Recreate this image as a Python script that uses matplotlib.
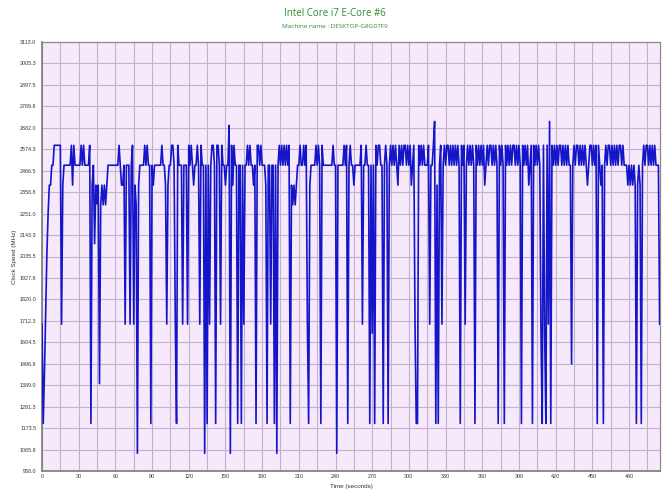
import numpy as np
import matplotlib
matplotlib.use("Agg")
import matplotlib.pyplot as plt
from matplotlib.ticker import MultipleLocator

title = "Intel Core i7 E-Core #6"
subtitle = "Machine name : DESKTOP-G8G07F9"
x_label = "Time (seconds)"
y_label = "Clock Speed (MHz)"

# clock speed, one sample per second (t = 0 .. 505)
clock_mhz = [
    1696, 1197, 1450, 1750, 2050, 2250, 2394, 2394, 2494, 2494,   # 0
    2594, 2594, 2594, 2594, 2594, 2594, 1696, 2394, 2494, 2494,   # 10
    2494, 2494, 2494, 2494, 2594, 2394, 2594, 2494, 2494, 2494,   # 20
    2494, 2494, 2594, 2494, 2594, 2494, 2494, 2494, 2494, 2594,   # 30
    1197, 2394, 2494, 2100, 2394, 2300, 2394, 1397, 2295, 2394,   # 40
    2295, 2394, 2295, 2394, 2494, 2494, 2494, 2494, 2494, 2494,   # 50
    2494, 2494, 2494, 2594, 2494, 2394, 2394, 2494, 1696, 2494,   # 60
    2494, 2494, 1696, 2494, 2594, 1696, 2394, 2294, 1047, 2394,   # 70
    2494, 2494, 2494, 2494, 2594, 2494, 2594, 2494, 2494, 1197,   # 80
    2494, 2394, 2494, 2494, 2494, 2494, 2494, 2494, 2594, 2494,   # 90
    2494, 2394, 1696, 2394, 2494, 2494, 2594, 2594, 2494, 1696,   # 100
    1197, 2594, 2494, 2494, 2494, 1696, 2494, 2494, 2494, 1696,   # 110
    2594, 2494, 2594, 2494, 2394, 2494, 2494, 2594, 2494, 1696,   # 120
    2594, 2494, 2494, 1047, 2494, 1197, 2494, 1696, 2494, 2594,   # 130
    2594, 2494, 1197, 2594, 2594, 2494, 1696, 2594, 2494, 2494,   # 140
    2394, 2494, 2494, 2694, 1047, 2594, 2394, 2594, 2494, 2494,   # 150
    1197, 2494, 2494, 1197, 2494, 1696, 2494, 2494, 2594, 2494,   # 160
    2594, 2494, 2494, 2394, 2494, 1197, 2594, 2594, 2494, 2594,   # 170
    2494, 2494, 2494, 2394, 1197, 2494, 2494, 1696, 2494, 2494,   # 180
    1197, 2494, 1047, 2494, 2594, 2494, 2594, 2494, 2594, 2494,   # 190
    2594, 2494, 2594, 1197, 2394, 2295, 2394, 2295, 2394, 2494,   # 200
    2494, 2594, 2494, 2494, 2594, 2494, 2594, 1696, 1197, 2394,   # 210
    2494, 2494, 2494, 2494, 2594, 2494, 2594, 2494, 1197, 2594,   # 220
    2494, 2494, 2494, 2494, 2494, 2494, 2494, 2494, 2594, 2494,   # 230
    2494, 1047, 2494, 2494, 2494, 2494, 2494, 2594, 2494, 2594,   # 240
    1197, 2494, 2594, 2494, 2494, 2394, 2494, 2494, 2494, 2494,   # 250
    2494, 2594, 1696, 2494, 2494, 2594, 2494, 2494, 1197, 2494,   # 260
    1650, 2494, 1197, 2594, 2494, 2594, 2594, 2494, 2494, 1197,   # 270
    2494, 2594, 2494, 1197, 2494, 2594, 2494, 2594, 2494, 2594,   # 280
    2494, 2394, 2594, 2494, 2594, 2494, 2594, 2594, 2494, 2594,   # 290
    2494, 2594, 2394, 2494, 2594, 1696, 1197, 1197, 2594, 2494,   # 300
    2594, 2494, 2594, 2494, 2494, 2494, 2594, 1696, 2494, 2494,   # 310
    2594, 2714, 1197, 2394, 1197, 2494, 2594, 1696, 2494, 2594,   # 320
    2494, 2594, 2594, 2494, 2594, 2494, 2594, 2494, 2594, 2494,   # 330
    2594, 2494, 1197, 2594, 2494, 2594, 1696, 2494, 2594, 2494,   # 340
    2594, 2494, 2594, 2494, 1197, 2594, 2494, 2594, 2494, 2594,   # 350
    2494, 2594, 2394, 2494, 2594, 2494, 2594, 2594, 2494, 2594,   # 360
    2494, 2594, 2494, 1197, 2594, 2494, 2594, 2494, 1197, 2594,   # 370
    2494, 2594, 2494, 2594, 2494, 2594, 2594, 2494, 2594, 2494,   # 380
    2594, 2494, 1197, 2594, 2494, 2594, 2494, 2594, 2394, 2494,   # 390
    2594, 1197, 2594, 2494, 2594, 2494, 2594, 2494, 1646, 1197,   # 400
    2594, 1650, 1197, 2594, 1696, 2714, 1197, 2594, 2494, 2594,   # 410
    2494, 2594, 2494, 2594, 2594, 2494, 2594, 2494, 2594, 2494,   # 420
    2594, 2494, 2494, 1496, 2494, 2594, 2494, 2594, 2594, 2494,   # 430
    2594, 2494, 2594, 2494, 2594, 2494, 2394, 2494, 2594, 2594,   # 440
    2494, 2594, 2494, 2594, 1197, 2594, 2494, 2394, 2494, 1197,   # 450
    2494, 2594, 2494, 2594, 2594, 2494, 2594, 2494, 2594, 2494,   # 460
    2594, 2494, 2594, 2594, 2494, 2594, 2494, 2494, 2494, 2394,   # 470
    2494, 2394, 2494, 2394, 2494, 2394, 1197, 2394, 2494, 2394,   # 480
    1197, 2494, 2594, 2494, 2594, 2594, 2494, 2594, 2494, 2594,   # 490
    2494, 2594, 2494, 2494, 2494, 1696,                           # 500
]
time_s = list(range(len(clock_mhz)))

y_ticks = [958.0, 1065.8, 1173.5, 1281.3, 1389.0, 1496.8, 1604.5, 1712.3,
           1820.0, 1927.8, 2035.5, 2143.3, 2251.0, 2358.8, 2466.5, 2574.3,
           2682.0, 2789.8, 2897.5, 3005.3, 3113.0]
x_ticks = list(range(0, 481, 30))

FONT = ["Liberation Sans", "DejaVu Sans"]

fig = plt.figure(figsize=(6.70, 5.03), dpi=100)
ax = fig.add_axes([42 / 670, 1 - 471 / 503, (660 - 42) / 670, (471 - 42) / 503])
ax.set_facecolor("#F6E9FC")

ax.plot(time_s, clock_mhz, color="#1414C8", lw=1.2, zorder=3)

ax.set_xlim(0, 505.3)
ax.set_ylim(958.0, 3113.0)
ax.set_yticks(y_ticks)
ax.set_yticklabels([f"{v:.1f}" for v in y_ticks], family=FONT)
ax.set_xticks(x_ticks)
ax.set_xticklabels([str(v) for v in x_ticks], family=FONT)
ax.xaxis.set_minor_locator(MultipleLocator(15))

ax.grid(which="major", axis="y", color="#C2B2CC", lw=0.8, zorder=1)
ax.grid(which="both", axis="x", color="#C2B2CC", lw=0.8, zorder=1)

ax.tick_params(which="both", length=0, labelsize=3.9, colors="#333333")
ax.tick_params(axis="y", pad=4)
ax.tick_params(axis="x", pad=2.5)
for side in ("left", "bottom"):
    ax.spines[side].set_color("#7A7A7A")
    ax.spines[side].set_linewidth(1.2)
for side in ("top", "right"):
    ax.spines[side].set_color("#8A8A8A")
    ax.spines[side].set_linewidth(0.9)

ax.set_xlabel(x_label, fontsize=4.5, color="#333333", family=FONT)
ax.xaxis.set_label_coords(0.5, -13 / 429)
ax.set_ylabel(y_label, fontsize=4.5, color="#333333", family=FONT)
ax.yaxis.set_label_coords(-25 / 618, 0.5)

fig.text(0.5, 1 - 13 / 503, title, ha="center", va="center", fontsize=7,
         color="#2E8B2E", family=["Open Sans", "DejaVu Sans"])
fig.text(0.5, 1 - 26 / 503, subtitle, ha="center", va="center", fontsize=4.6,
         color="#2E8B2E", family=["Open Sans", "DejaVu Sans"])

fig.savefig("out.png", dpi=100)
